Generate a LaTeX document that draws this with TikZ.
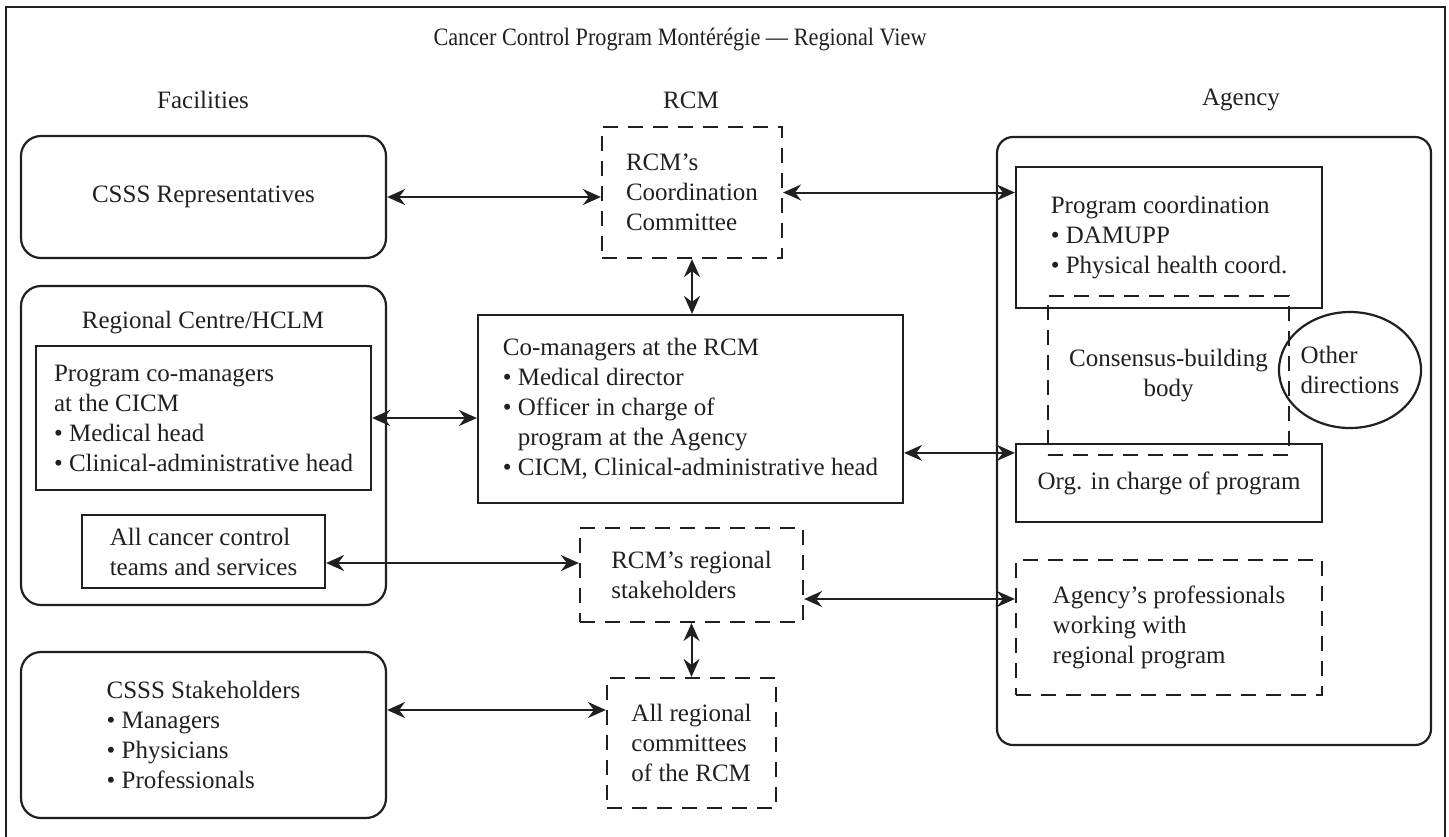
\documentclass[tikz,border=0pt]{standalone}
\usepackage{fontspec}
\setmainfont{Liberation Serif}
\newfontfamily\titlefont[FakeStretch=0.89]{Liberation Serif}
\definecolor{ink}{RGB}{35, 31, 32}
\usetikzlibrary{arrows.meta, positioning, shapes.geometric, calc}
\newcommand{\diagfont}{\fontsize{12.5}{15}\selectfont}
\tikzset{
	lbl/.style={inner sep=0pt, align=center, font=\diagfont, text=ink},
	roundbox/.style={rectangle, rounded corners=10pt, draw=ink, line width=1.1pt, align=left, font=\diagfont, text=ink, inner sep=0pt},
	plainbox/.style={rectangle, draw=ink, line width=1.1pt, align=left, font=\diagfont, text=ink, inner sep=0pt},
	dashbox/.style={rectangle, draw=ink, line width=1.1pt, dash pattern=on 7.5pt off 5pt, align=left, font=\diagfont, text=ink, inner sep=0pt},
	ovalbox/.style={ellipse, draw=ink, line width=1.1pt, align=left, font=\diagfont, text=ink, inner sep=0pt},
	both/.style={{Stealth[length=9pt, width=8pt, inset=3pt]}-{Stealth[length=9pt, width=8pt, inset=3pt]}, line width=1pt, draw=ink},
}
\newcommand{\bul}{\textbullet\ }
\begin{document}
\begin{tikzpicture}[x=0.5pt, y=-0.5pt]
	\useasboundingbox (0,0) rectangle (1449,836);
	\draw[ink, line width=1pt] (6,840) -- (6,7) -- (1445,7) -- (1445,840);
	\node[lbl, font=\titlefont\diagfont] (title) at (680,40) {Cancer Control Program Montérégie — Regional View};
	\node[lbl] (hfac) at (203,100) {Facilities};
	\node[lbl] (hrcm) at (691,100) {RCM};
	\node[lbl] (hagency) at (1241,100) {Agency};
	% facilities
	\node[roundbox, minimum width=182.5pt, minimum height=61pt] (csssrep) at (203.5,197) {CSSS Representatives};
	\node[roundbox, minimum width=182.5pt, minimum height=159.5pt] (regional) at (203.5,445.5) {};
	\node[lbl] (regtitle) at (203,323) {Regional Centre/HCLM};
	\node[plainbox, minimum width=167.5pt, minimum height=72pt] (cicm) at (203.5,418) {Program co-managers\\at the CICM\\\bul Medical head\\\bul Clinical-administrative head};
	\node[plainbox, minimum width=121.5pt, minimum height=36.5pt] (teams) at (203.5,551.5) {All cancer control\\teams and services};
	\node[roundbox, minimum width=182.5pt, minimum height=83pt] (csssstake) at (203.5,735) {CSSS Stakeholders\\\bul Managers\\\bul Physicians\\\bul Professionals};
	% rcm
	\node[dashbox, minimum width=90pt, minimum height=65.5pt] (coord) at (692,192.5) {RCM’s\\Coordination\\Committee};
	\node[plainbox, minimum width=212.5pt, minimum height=94pt] (comgr) at (690.5,409) {Co-managers at the RCM\\\bul Medical director\\\bul Officer in charge of\\\phantom{\bul}program at the Agency\\\bul CICM, Clinical-administrative head};
	\node[dashbox, minimum width=111.5pt, minimum height=47pt] (stake) at (691.5,575) {RCM’s regional\\stakeholders};
	\node[dashbox, minimum width=84.5pt, minimum height=65pt] (allcomm) at (691.5,743) {All regional\\committees\\of the RCM};
	% agency
	\node[roundbox, rounded corners=8pt, minimum width=217pt, minimum height=304pt] (agency) at (1214,441) {};
	\node[plainbox, minimum width=153pt, minimum height=70.5pt] (progcoord) at (1169,237.5) {Program coordination\\\bul DAMUPP\\\bul Physical health coord.};
	\node[plainbox, minimum width=153pt, minimum height=39pt] (orgcharge) at (1169,483) {Org. in charge of program};
	\node[dashbox, align=center, minimum width=120.5pt, minimum height=79.5pt] (consensus) at (1168.5,375.5) {Consensus-building\\body};
	\node[ovalbox, minimum width=71pt, minimum height=58pt] (otherdir) at (1350,370) {Other\\directions};
	\node[dashbox, minimum width=153pt, minimum height=67.5pt] (agprof) at (1169,627.5) {Agency’s professionals\\working with\\regional program};
	% links
	\coordinate (oc) at ([yshift=-5pt]orgcharge.north west);
	\coordinate (tm) at ([yshift=-5.75pt]teams.east);
	\coordinate (sk) at ([yshift=-12pt]stake.east);
	\coordinate (cs) at ([yshift=12.5pt]csssstake.east);
	\draw[both] (csssrep.east) -- (csssrep.east -| coord.west);
	\draw[both] (coord.east) -- (coord.east -| progcoord.west);
	\draw[both] (coord.south) -- (coord.south |- comgr.north);
	\draw[both] (cicm.east) -- (cicm.east -| comgr.west);
	\draw[both] (comgr.east |- oc) -- (oc);
	\draw[both] (tm) -- (tm -| stake.west);
	\draw[both] (sk) -- (sk -| agprof.west);
	\draw[both] (stake.south) -- (stake.south |- allcomm.north);
	\draw[both] (cs) -- (cs -| allcomm.west);
\end{tikzpicture}
\end{document}
